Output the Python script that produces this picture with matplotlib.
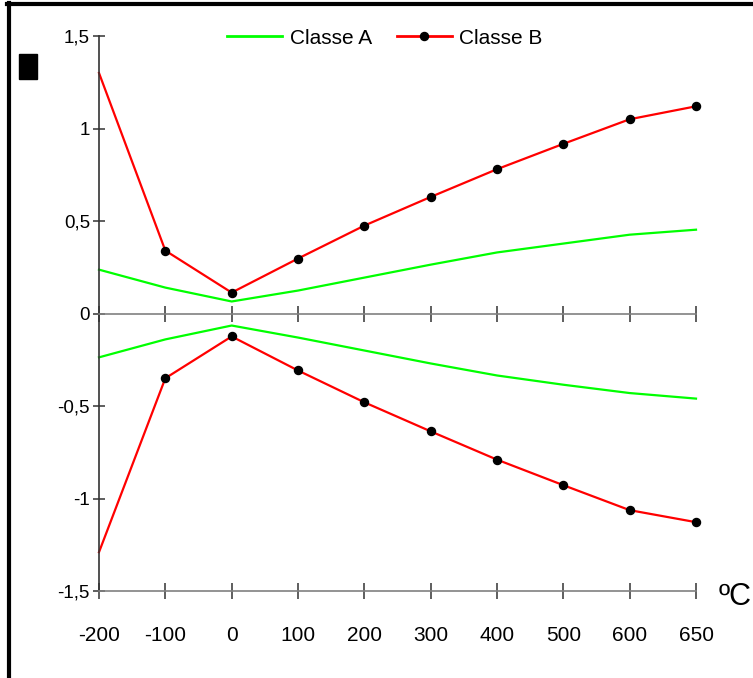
import matplotlib
matplotlib.use("Agg")
import matplotlib.pyplot as plt
import numpy as np
from matplotlib.lines import Line2D
from matplotlib.patches import Rectangle

plt.rcParams['font.family'] = ['Liberation Sans', 'DejaVu Sans']

temps = ['-200', '-100', '0', '100', '200', '300', '400', '500', '600', '650']
a_upper = [0.237, 0.14, 0.065, 0.124, 0.194, 0.264, 0.33, 0.378, 0.426, 0.453]
a_lower = [-0.237, -0.14, -0.065, -0.13, -0.2, -0.27, -0.335, -0.385, -0.43, -0.46]
b_upper = [1.30, 0.34, 0.113, 0.297, 0.475, 0.63, 0.78, 0.917, 1.05, 1.12]
b_lower = [-1.29, -0.35, -0.124, -0.308, -0.48, -0.637, -0.79, -0.928, -1.063, -1.128]
y_ticks = [1.5, 1, 0.5, 0, -0.5, -1, -1.5]
y_labels = ['1,5', '1', '0,5', '0', '-0,5', '-1', '-1,5']


def graph():
    fig = plt.figure(figsize=(7.53, 6.78), dpi=100)
    ax = fig.add_axes([99 / 753, 1 - 591 / 678, (696 - 99) / 753, (591 - 36) / 678])
    x = np.arange(len(temps))

    green = '#00ff00'
    red = '#ff0000'
    ax.plot(x, a_upper, color=green, lw=1.6, clip_on=False)
    ax.plot(x, a_lower, color=green, lw=1.6, clip_on=False)
    # class B: no dot on the first point
    for ys in (b_upper, b_lower):
        ax.plot(x, ys, color=red, lw=1.6, clip_on=False)
        ax.plot(x[1:], ys[1:], 'o', color='black', ms=5.8, clip_on=False)

    ax.set_xlim(0, len(temps) - 1)
    ax.set_ylim(-1.5, 1.5)

    # spines: left black, bottom gray, top spine moved to zero
    ax.spines['right'].set_visible(False)
    ax.spines['left'].set_color('#333333')
    ax.spines['bottom'].set_color('#808080')
    ax.spines['top'].set_position(('data', 0))
    ax.spines['top'].set_color('#808080')
    for s in ('left', 'bottom', 'top'):
        ax.spines[s].set_linewidth(1.2)

    ax.set_xticks(x)
    ax.set_xticklabels(temps)
    ax.set_yticks(y_ticks)
    ax.set_yticklabels(y_labels)
    ax.tick_params(axis='x', direction='inout', length=12, width=1.1, color='#333333',
                   top=True, labeltop=False, pad=19.5, labelsize=15)
    ax.tick_params(axis='y', direction='inout', length=9, width=1.1, color='#333333',
                   pad=2, labelsize=13.5)

    handles = [Line2D([], [], color=green, lw=2),
               Line2D([], [], color=red, lw=2, marker='o', markerfacecolor='black',
                      markeredgecolor='black', ms=5.8)]
    ax.legend(handles, ['Classe A', 'Classe B'], loc='center', ncol=2,
              bbox_to_anchor=(385 / 753, 1 - 38 / 678), bbox_transform=fig.transFigure,
              frameon=False, fontsize=15, handlelength=2.65, numpoints=1,
              columnspacing=1.2, handletextpad=0.35)

    fig.text(719 / 753, 1 - 597 / 678, 'ºC', fontsize=22, va='center', ha='left')

    # small black box and frame edges
    fig.patches.append(Rectangle((19 / 753, 1 - 79 / 678), 18 / 753, 25 / 678,
                                 transform=fig.transFigure, color='black'))
    fig.lines.append(Line2D([8.5 / 753, 8.5 / 753], [0, 1 - 3 / 678],
                            transform=fig.transFigure, color='black', lw=3))
    fig.lines.append(Line2D([7 / 753, 1], [1 - 4 / 678, 1 - 4 / 678],
                            transform=fig.transFigure, color='black', lw=3))

    fig.savefig('out.png', dpi=100)


if __name__ == "__main__":
    graph()
